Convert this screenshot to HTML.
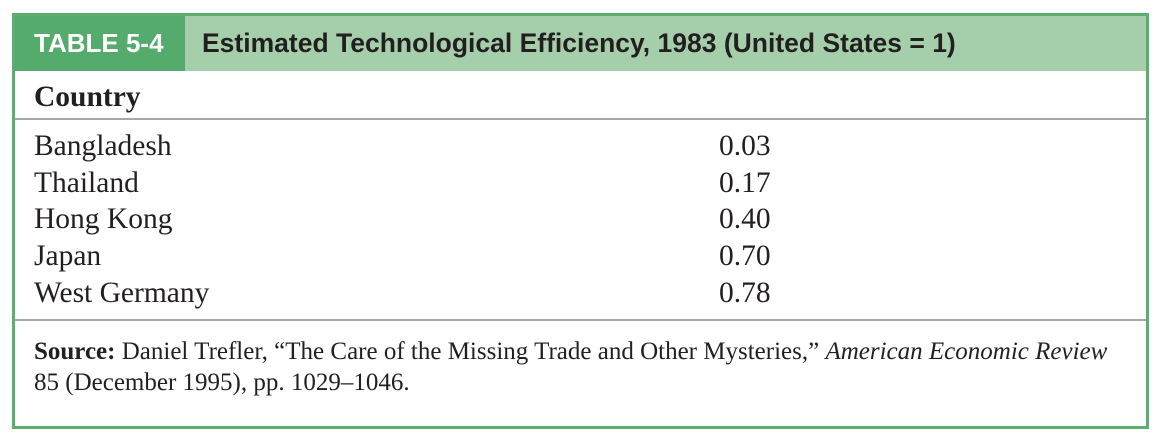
<!DOCTYPE html>
<html><head><meta charset="utf-8"><style>
body{margin:0;width:1168px;height:440px;background:#fff;position:relative;overflow:hidden;font-family:"Liberation Serif",serif;color:#231f20}
.frame{position:absolute;left:12px;top:13px;width:1131px;height:410px;border:3px solid #5bae70;}
.hd1{position:absolute;left:0;top:0;width:170px;height:55px;background:#55ab6c;color:#fff;font:bold 26px "Liberation Sans",sans-serif;line-height:55px;padding-left:19px;box-sizing:border-box}
.hd2{position:absolute;left:170px;top:0;right:0;height:55px;background:#a5cfab;font:bold 26.5px "Liberation Sans",sans-serif;line-height:55px;padding-left:17px;box-sizing:border-box}
.t{position:absolute;font-size:29.5px;white-space:nowrap}
.line{position:absolute;left:0;right:0;height:2px;background:#a7a7ab}
</style></head><body>
<div class="frame">
<div class="hd1">TABLE 5-4</div>
<div class="hd2">Estimated Technological Efficiency, 1983 (United States = 1)</div>
<div class="t" style="left:19px;top:65px;font-weight:bold">Country</div>
<div class="line" style="top:102px"></div>
<div class="t" style="left:19px;top:114px">Bangladesh</div>
<div class="t" style="left:704px;top:114px">0.03</div>
<div class="t" style="left:19px;top:151px">Thailand</div>
<div class="t" style="left:704px;top:151px">0.17</div>
<div class="t" style="left:19px;top:187px">Hong Kong</div>
<div class="t" style="left:704px;top:187px">0.40</div>
<div class="t" style="left:19px;top:224px">Japan</div>
<div class="t" style="left:704px;top:224px">0.70</div>
<div class="t" style="left:19px;top:261px">West Germany</div>
<div class="t" style="left:704px;top:261px">0.78</div>
<div class="line" style="top:303px"></div>
<div class="t" style="left:19px;top:322px;font-size:25px"><b>Source:</b> Daniel Trefler, “The Care of the Missing Trade and Other Mysteries,” <i>American Economic Review</i></div>
<div class="t" style="left:19px;top:353px;font-size:25px">85 (December 1995), pp. 1029–1046.</div>
</div>
</body></html>
